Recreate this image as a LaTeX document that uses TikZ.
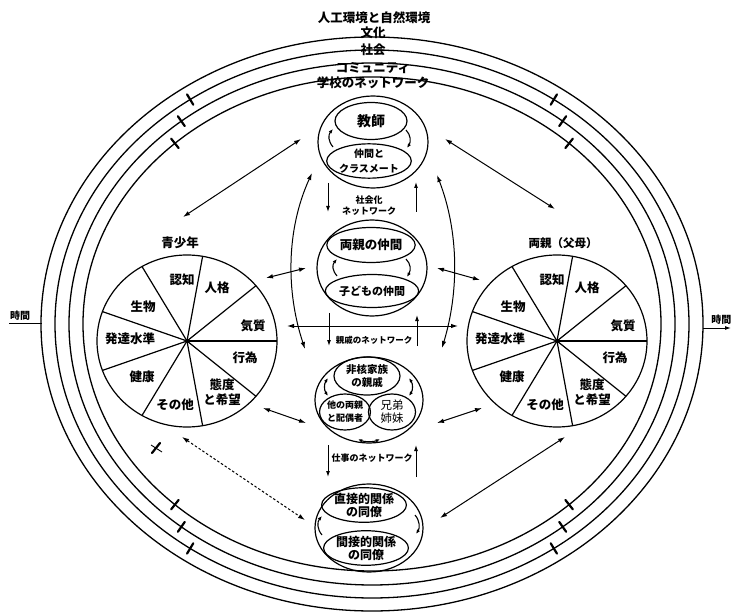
\documentclass[tikz,border=0pt]{standalone}
\usepackage{fontspec}
\setmainfont{Noto Sans CJK JP}
\usetikzlibrary{arrows.meta,shapes.geometric}

\tikzset{
  ring/.style={line width=1.3pt},
  bubble/.style={draw, ellipse, line width=1.2pt, inner sep=0pt},
  inner/.style={draw, ellipse, line width=1.2pt, inner sep=0pt, align=center},
  pielab/.style={font=\bfseries\fontsize{12.5}{15}\selectfont, align=center},
  toplab/.style={font=\bfseries\fontsize{12.5}{14}\selectfont},
  netlab/.style={font=\bfseries\fontsize{9}{11}\selectfont, align=center},
  link/.style={{Latex[length=7pt,width=4.5pt]}-{Latex[length=7pt,width=4.5pt]}, line width=1pt},
  oneway/.style={-{Latex[length=6pt,width=4pt]}, line width=1pt},
  swirl/.style={-{Latex[length=4.5pt,width=3.5pt]}, line width=1.1pt},
  swirltwo/.style={{Latex[length=4.5pt,width=3.5pt]}-{Latex[length=4.5pt,width=3.5pt]}, line width=1.1pt},
  tickmark/.style={line width=2.2pt, line cap=round},
  pieline/.style={line width=1.2pt},
}

\begin{document}
\begin{tikzpicture}[x=1pt,y=-1pt]
\useasboundingbox (0,0) rectangle (732,615);

% nested environment rings
\coordinate (O) at (372,324);
\draw[ring] (O) ellipse [x radius=331, y radius=287];
\draw[ring] (O) ellipse [x radius=317, y radius=274];
\draw[ring] (O) ellipse [x radius=303, y radius=261];
\draw[ring] (O) ellipse [x radius=289, y radius=247];

% cross marks on the three inner rings
\foreach \rx/\ry/\t in {317/274/55, 303/261/51, 289/247/47} {
  \foreach \a in {\t, -\t, 180-\t, 180+\t} {
    \pgfmathsetmacro\px{372+\rx*cos(\a)}
    \pgfmathsetmacro\py{324+\ry*sin(\a)}
    \pgfmathsetmacro\nx{\ry*cos(\a)}
    \pgfmathsetmacro\ny{\rx*sin(\a)}
    \pgfmathsetmacro\nn{veclen(\nx,\ny)}
    \draw[tickmark] ({\px-6*\nx/\nn},{\py-6*\ny/\nn}) -- ({\px+6*\nx/\nn},{\py+6*\ny/\nn});
  }
}
% lone mark
\draw[line width=0.9pt] (151,445) -- (162,452);
\draw[tickmark] (152,453) -- (160,443);

% ring labels
\node[toplab] (env) at (374,18) {人工環境と自然環境};
\node[toplab] (culture) at (373,33) {文化};
\node[toplab] (society) at (373,50) {社会};
\node[toplab] (community) at (373,68) {コミュニティ};
\node[toplab] (schoolnet) at (373,83) {学校のネットワーク};

% time axis
\node[font=\bfseries\fontsize{10}{12}\selectfont] (timeL) at (20,316) {時間};
\coordinate (tL0) at (9,323);
\coordinate (tL1) at (42,323);
\draw[line width=1pt] (tL0) -- (tL1);
\node[font=\bfseries\fontsize{10}{12}\selectfont, anchor=east, inner sep=0.5pt] (timeR) at (732,320) {時間};
\coordinate (tR0) at (703,328);
\coordinate (tR1) at (731,328);
\draw[oneway] (tR0) -- (tR1);

% central column of networks
\node[bubble, minimum width=110pt, minimum height=92pt] (school) at (373,142) {};
\node[inner, minimum width=72pt, minimum height=37pt, font=\bfseries\fontsize{14}{16}\selectfont] (teacher) at (371,121) {教師};
\node[inner, minimum width=74pt, minimum height=34pt, font=\bfseries\fontsize{10}{15}\selectfont] (mates) at (369,161) {仲間と\\クラスメート};
\draw[swirl] (333,147) .. controls (328,141) and (328,135) .. (333,129);
\draw[swirl] (406,130) .. controls (411,135) and (411,142) .. (407,148);

\node[netlab] (socnet) at (369,206) {社会化\\ネットワーク};

\node[bubble, minimum width=110pt, minimum height=96pt] (peers) at (372,268) {};
\node[inner, minimum width=72pt, minimum height=35pt, font=\bfseries\fontsize{12.5}{15}\selectfont] (pp) at (371,245) {両親の仲間};
\node[inner, minimum width=72pt, minimum height=33pt, font=\bfseries\fontsize{11}{13}\selectfont] (cp) at (372,291) {子どもの仲間};
\draw[swirl] (337,276) .. controls (332,270) and (332,265) .. (337,259);
\draw[swirl] (406,259) .. controls (411,264) and (411,270) .. (407,277);

\node[netlab, font=\bfseries\fontsize{8.5}{10}\selectfont] (kinnet) at (374,340) {親戚のネットワーク};

\node[bubble, minimum width=108pt, minimum height=86pt] (kin) at (369,400) {};
\node[inner, minimum width=66pt, minimum height=38pt, font=\bfseries\fontsize{10.5}{13}\selectfont] (rel) at (367,376) {非核家族\\の親戚};
\node[inner, minimum width=46pt, minimum height=36pt, font=\bfseries\fontsize{9}{13}\selectfont] (op) at (345,412) {他の両親\\と配偶者};
\node[inner, minimum width=47pt, minimum height=36pt, font=\fontsize{11.5}{13}\selectfont] (sib) at (392,412) {兄弟\\姉妹};
\draw[swirltwo] (328,378) .. controls (324,384) and (324,390) .. (328,396);
\draw[swirltwo] (409,378) .. controls (413,384) and (413,390) .. (409,396);
\draw[swirltwo] (358,439) .. controls (364,442) and (374,442) .. (380,439);

\node[netlab] (worknet) at (372,458) {仕事のネットワーク};

\node[bubble, minimum width=108pt, minimum height=88pt] (work) at (369,528) {};
\node[inner, minimum width=82pt, minimum height=34pt, font=\bfseries\fontsize{12}{13}\selectfont] (direct) at (364,505) {直接的関係\\の同僚};
\node[inner, minimum width=82pt, minimum height=34pt, font=\bfseries\fontsize{12}{13}\selectfont] (indirect) at (366,548) {間接的関係\\の同僚};
\draw[swirl] (322,535) .. controls (317,529) and (317,522) .. (322,516);
\draw[swirl] (415,515) .. controls (420,521) and (420,528) .. (416,534);

% vertical links between the networks
\draw[oneway] (328,183) -- (328,212);
\draw[oneway] (416,212) -- (416,182);
\draw[oneway] (329,313) -- (329,346);
\draw[oneway] (417,346) -- (417,315);
\draw[oneway] (328,445) -- (328,477);
\draw[oneway] (416,477) -- (416,445);

% the two persons
\node[draw, ellipse, minimum width=180pt, minimum height=172pt, line width=1.2pt, inner sep=0pt] (youth) at (187,341) {};
\node[draw, ellipse, minimum width=180pt, minimum height=172pt, line width=1.2pt, inner sep=0pt] (parent) at (557,341) {};
\foreach \p in {youth, parent} {
  \foreach \a in {0,40,...,320}
    \draw[pieline] (\p.center) -- ++({90*cos(\a)},{86*sin(\a)});
  \fill (\p.center) circle (2);
  \node[pielab] at ([shift={(-5,-61)}]\p.center) {認知};
  \node[pielab] at ([shift={(30,-53)}]\p.center) {人格};
  \node[pielab] at ([shift={(66,-15)}]\p.center) {気質};
  \node[pielab] at ([shift={(58,17)}]\p.center) {行為};
  \node[pielab, font=\bfseries\fontsize{12.5}{15}\selectfont] at ([shift={(35,51)}]\p.center) {態度\\と希望};
  \node[pielab] at ([shift={(-12,64)}]\p.center) {その他};
  \node[pielab] at ([shift={(-45,36)}]\p.center) {健康};
  \node[pielab] at ([shift={(-57,-2)}]\p.center) {発達水準};
  \node[pielab] at ([shift={(-44,-34)}]\p.center) {生物};
}
\node[pielab] (youthT) at (180,243) {青少年};
\node[pielab, font=\bfseries\fontsize{11.5}{14}\selectfont] (parentT) at (563,243) {両親（父母）};

% links between the persons and the networks
\coordinate (a1s) at (183,217); \coordinate (a1e) at (301,139);
\coordinate (a2s) at (445,139); \coordinate (a2e) at (555,209);
\coordinate (a3s) at (266,278); \coordinate (a3e) at (306,268);
\coordinate (a4s) at (437,268); \coordinate (a4e) at (480,280);
\coordinate (a5s) at (287,326); \coordinate (a5e) at (458,326);
\coordinate (a6s) at (263,408); \coordinate (a6e) at (306,423);
\coordinate (a7s) at (437,423); \coordinate (a7e) at (482,408);
\coordinate (a8s) at (182,437); \coordinate (a8e) at (305,520);
\coordinate (a9s) at (440,518); \coordinate (a9e) at (565,437);
\draw[link] (a1s) -- (a1e);
\draw[link] (a2s) -- (a2e);
\draw[link] (a3s) -- (a3e);
\draw[link] (a4s) -- (a4e);
\draw[link] (a5s) -- (a5e);
\draw[link] (a6s) -- (a6e);
\draw[link] (a7s) -- (a7e);
\draw[link, dash pattern=on 2.5pt off 2pt] (a8s) -- (a8e);
\draw[link] (a9s) -- (a9e);

% long arcs from the school network down to the kin network
\coordinate (bl0) at (312,173); \coordinate (bl1) at (305,349);
\coordinate (br0) at (437,175); \coordinate (br1) at (442,348);
\draw[link] (bl0) .. controls (286,230) and (286,292) .. (bl1);
\draw[link] (br0) .. controls (459,232) and (459,292) .. (br1);

\end{tikzpicture}
\end{document}
